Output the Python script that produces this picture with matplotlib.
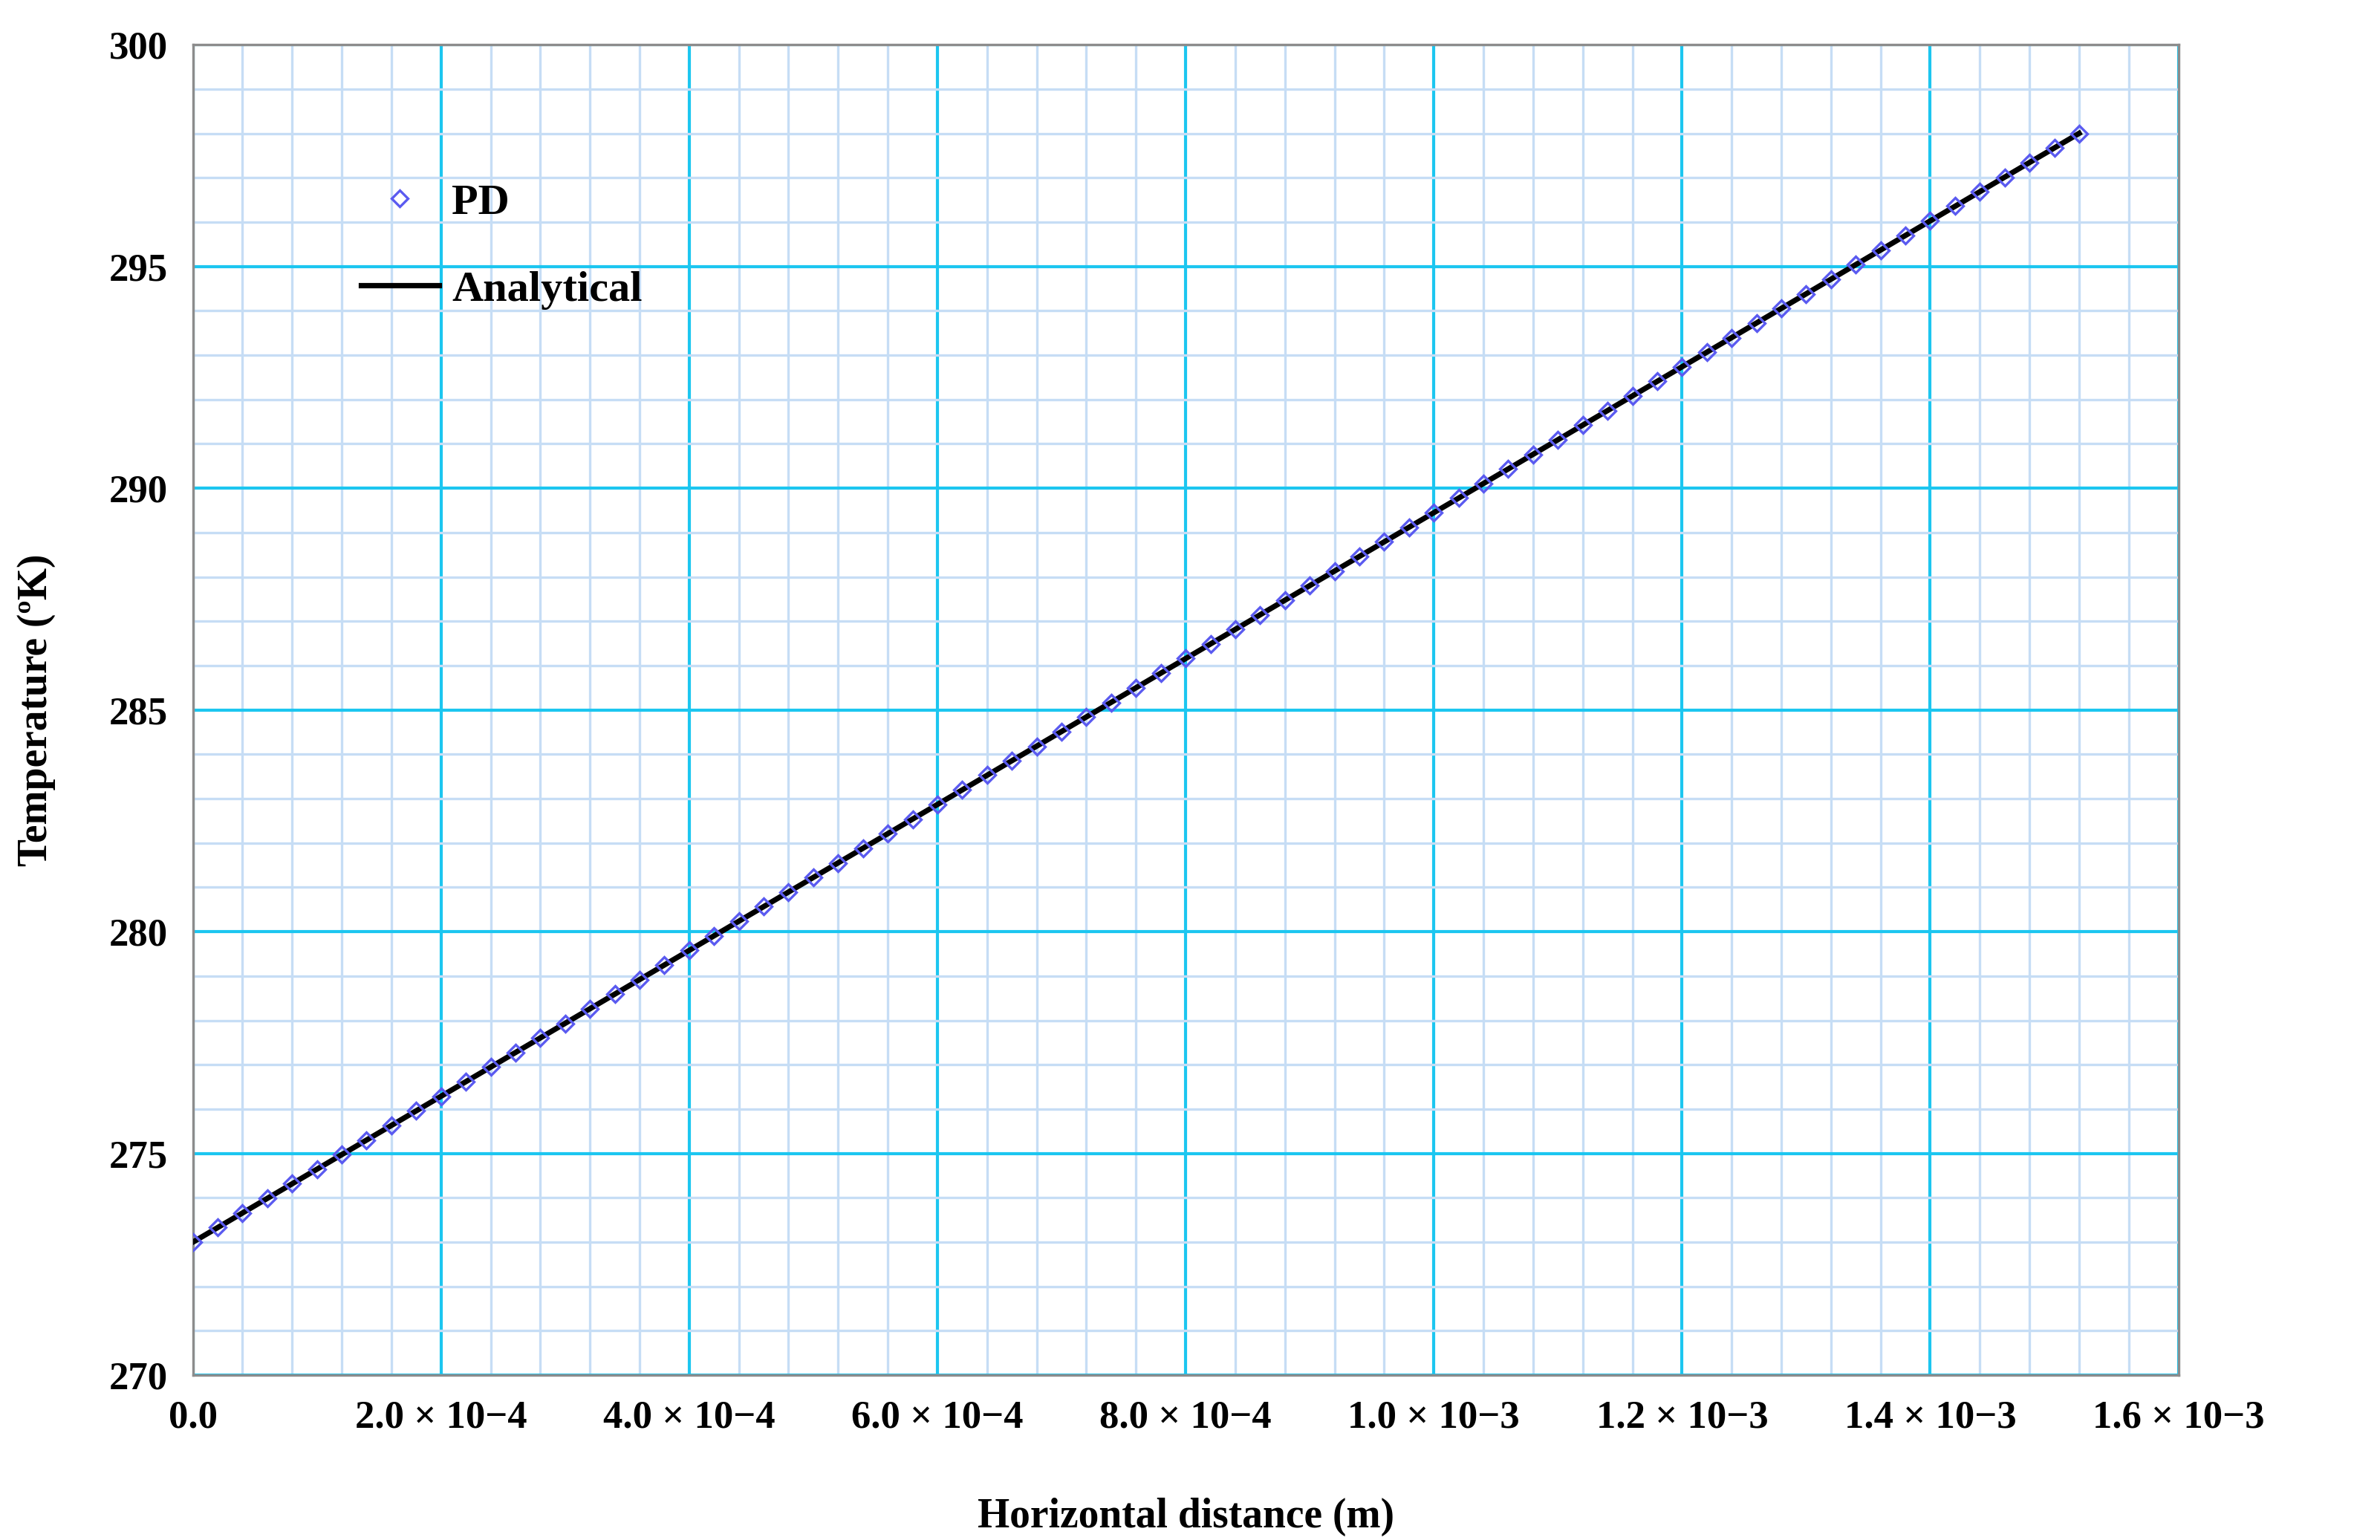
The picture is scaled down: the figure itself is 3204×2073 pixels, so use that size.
import numpy as np
import matplotlib
matplotlib.use("Agg")
import matplotlib.pyplot as plt
from matplotlib.ticker import MultipleLocator

plt.rcParams['font.family'] = ['Liberation Serif', 'DejaVu Serif']
plt.rcParams['font.weight'] = 'bold'

# ---- data ----
x_um = list(range(0, 1521, 20))  # sample positions, micrometres
pd_temp = [273.00, 273.33, 273.66, 273.99, 274.32, 274.64, 274.97, 275.30, 275.63, 275.96,
           276.29, 276.62, 276.95, 277.28, 277.61, 277.93, 278.26, 278.59, 278.92, 279.25,
           279.58, 279.91, 280.24, 280.57, 280.89, 281.22, 281.55, 281.88, 282.21, 282.54,
           282.87, 283.20, 283.53, 283.86, 284.18, 284.51, 284.84, 285.17, 285.50, 285.83,
           286.16, 286.49, 286.82, 287.14, 287.47, 287.80, 288.13, 288.46, 288.79, 289.12,
           289.45, 289.78, 290.11, 290.43, 290.76, 291.09, 291.42, 291.75, 292.08, 292.41,
           292.74, 293.07, 293.39, 293.72, 294.05, 294.38, 294.71, 295.04, 295.37, 295.70,
           296.03, 296.36, 296.68, 297.01, 297.34, 297.67, 298.00]
ana_x = [0.0, 1.52e-3]
ana_temp = [273.0, 298.0]
xtick_vals = [0, 2e-4, 4e-4, 6e-4, 8e-4, 1e-3, 1.2e-3, 1.4e-3, 1.6e-3]
xtick_labels = ["0.0", "2.0 × 10−4", "4.0 × 10−4", "6.0 × 10−4", "8.0 × 10−4",
                "1.0 × 10−3", "1.2 × 10−3", "1.4 × 10−3", "1.6 × 10−3"]

x = np.array(x_um) * 1e-6

fig = plt.figure(figsize=(16.025, 10.365), dpi=200)
ax = fig.add_axes([0.081, 0.107, 0.834, 0.864])

ax.plot(ana_x, ana_temp, color="black", lw=2.6, label="Analytical", zorder=3)
ax.plot(x, pd_temp, ls="none", marker="D", ms=5.5, mfc="none", mec="#5a5af0",
        mew=1.2, label="PD", zorder=4)

ax.set_xlim(0, 1.6e-3)
ax.set_ylim(270, 300)
ax.set_xticks(xtick_vals)
ax.set_xticklabels(xtick_labels, fontsize=19)
ax.yaxis.set_major_locator(MultipleLocator(5))
ax.tick_params(axis="y", labelsize=19)
ax.xaxis.set_minor_locator(MultipleLocator(4e-5))
ax.yaxis.set_minor_locator(MultipleLocator(1))
ax.tick_params(which="both", length=0, pad=12)
ax.grid(which="minor", color="#c6ddf5", lw=1.2)
ax.grid(which="major", color="#1cc6f0", lw=1.5)
ax.set_axisbelow(True)
for s in ax.spines.values():
    s.set_color("#8c8c8c")
    s.set_linewidth(1.2)

ax.set_xlabel("Horizontal distance (m)", fontsize=20, fontweight="bold", labelpad=30)
ax.set_ylabel("Temperature (ºK)", fontsize=20, fontweight="bold", labelpad=26)

h, l = ax.get_legend_handles_labels()
ax.legend([h[1], h[0]], [l[1], l[0]], loc="upper left", bbox_to_anchor=(0.065, 0.925),
          frameon=False, fontsize=21, handlelength=1.8, handletextpad=0.3,
          labelspacing=1.1)

fig.savefig("out.png", dpi=200)
